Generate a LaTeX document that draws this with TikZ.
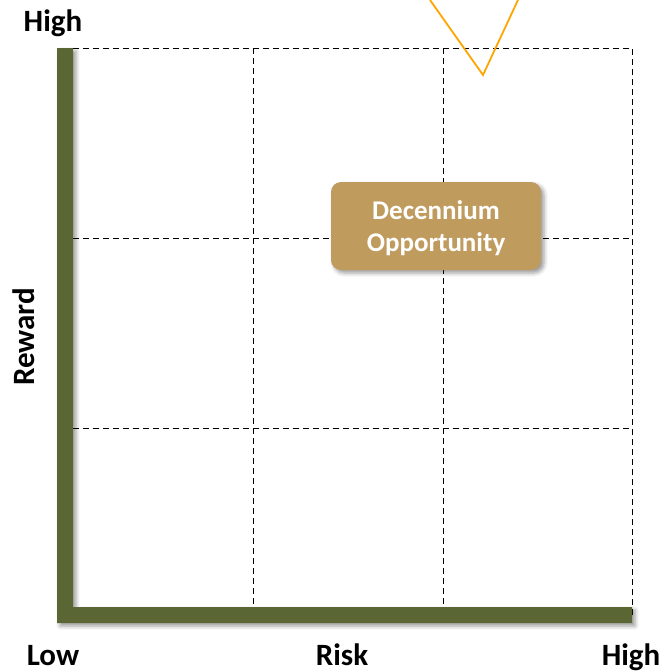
\documentclass[tikz,border=0pt]{standalone}
\usepackage{fontspec}
\setmainfont{Carlito}
\usetikzlibrary{shadows.blur}
\definecolor{axisgreen}{HTML}{5A6634}
\definecolor{boxtan}{HTML}{C09B5E}
\definecolor{vorange}{HTML}{FFA500}
\tikzset{
  gridline/.style={dash pattern=on 6pt off 4pt, line width=1pt},
  axislabel/.style={font=\fontsize{31}{36}\selectfont\bfseries, anchor=base},
  oppbox/.style={fill=boxtan, text=white, rounded corners=10pt, align=center,
    minimum width=210pt, minimum height=88pt, text depth=-6pt,
    font=\fontsize{27}{32}\selectfont\bfseries,
    blur shadow={shadow xshift=3pt, shadow yshift=-3pt, shadow blur radius=4pt, shadow opacity=40}}
}
\begin{document}
\begin{tikzpicture}[x=1pt, y=-1pt]
      \useasboundingbox (0,0) rectangle (667,672);
      % dashed 3x3 grid
      \draw[gridline] (63,48) rectangle (632,617);
      \foreach \g in {253,443} {
        \draw[gridline] (\g,48) -- (\g,617);
      }
      \foreach \g in {238,428} {
        \draw[gridline] (63,\g) -- (632,\g);
      }
      % axes
      \fill[axisgreen, blur shadow={shadow xshift=3pt, shadow yshift=-3pt, shadow blur radius=4pt, shadow opacity=40}]
            (57,48) -- (73,48) -- (73,607) -- (632,607) -- (632,623) -- (57,623) -- cycle;
      \node[axislabel] (tophigh) at (53,31) {High};
      \node[axislabel] (low) at (53,665) {Low};
      \node[axislabel] (risk) at (342,665) {Risk};
      \node[axislabel] (righthigh) at (631,665) {High};
      \node[axislabel, anchor=center, rotate=90] (reward) at (24,337) {Reward};
      \node[oppbox] (opp) at (436,226) {Decennium\\Opportunity};
      % orange pointer
      \coordinate (vleft) at (430,0);
      \coordinate (vtip) at (483,75);
      \coordinate (vright) at (518,0);
      \draw[vorange, line width=1.8pt] (vleft) -- (vtip) -- (vright);
\end{tikzpicture}
\end{document}
